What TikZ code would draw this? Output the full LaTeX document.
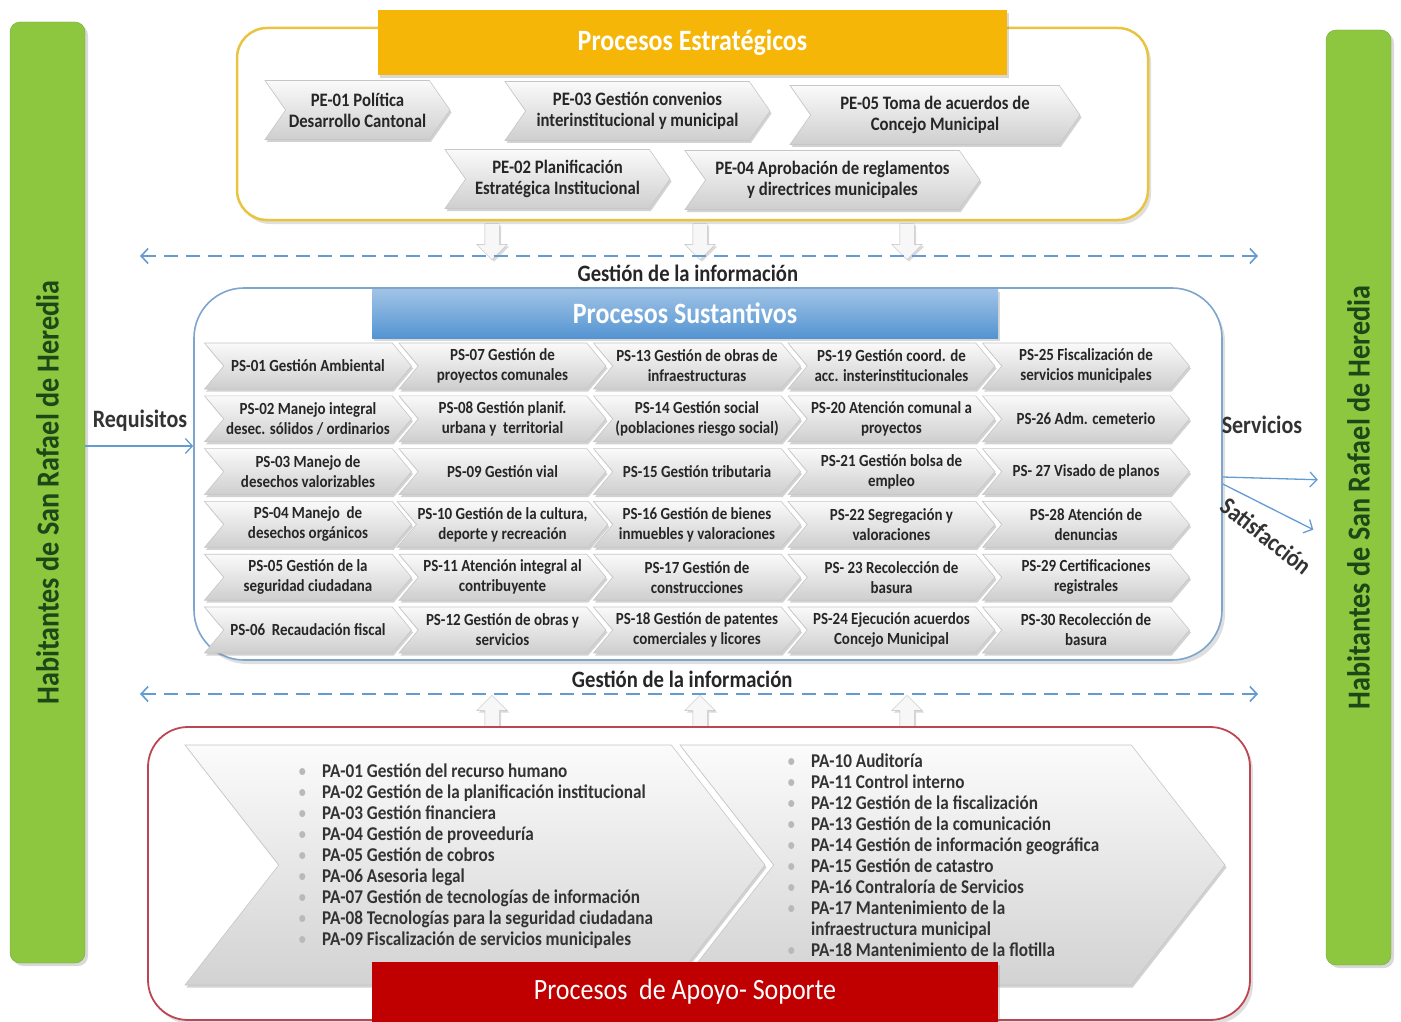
\documentclass[tikz,border=0pt]{standalone}
\usepackage{fontspec}
\setmainfont{Carlito}[FakeStretch=0.88]
\usetikzlibrary{shapes.symbols,shapes.arrows,shadows,arrows.meta,positioning}
\definecolor{habgreen}{RGB}{141,198,63}
\definecolor{habtext}{RGB}{28,72,24}
\definecolor{estgold}{RGB}{246,182,8}
\definecolor{estline}{RGB}{232,196,64}
\definecolor{susblue}{RGB}{84,148,210}
\definecolor{susline}{RGB}{125,165,205}
\definecolor{apored}{RGB}{192,0,0}
\definecolor{apoline}{RGB}{188,70,82}
\definecolor{infoblue}{RGB}{100,155,210}
\tikzset{>={Straight Barb[length=7pt,width=15pt]}}
\tikzset{
  habbar/.style = {rectangle, rounded corners=10pt, fill=habgreen,
    draw=habgreen!85!black, rotate=90, text=habtext,
    font=\bfseries\fontsize{32}{32}\selectfont,
    drop shadow={opacity=0.3, shadow xshift=3pt, shadow yshift=-3pt}},
  frame/.style = {rectangle, fill=white, line width=2pt,
    drop shadow={opacity=0.25, shadow xshift=3pt, shadow yshift=-4pt}},
  estframe/.style = {frame, draw=estline, rounded corners=30pt, line width=2.5pt},
  susframe/.style = {frame, draw=susline, rounded corners=50pt, line width=1.6pt},
  apoframe/.style = {frame, draw=apoline, rounded corners=40pt, line width=1.8pt},
  titlebox/.style = {rectangle, text=white, font=\bfseries\fontsize{29.5}{31}\selectfont,
    drop shadow={opacity=0.3, shadow xshift=2pt, shadow yshift=-3pt}},
  chev/.style = {signal, signal to=east, signal from=west, signal pointer angle=100,
    top color=gray!4, bottom color=gray!38, draw=gray!45, line width=0.6pt,
    align=center, text=black!85, inner xsep=1pt, inner ysep=0pt,
    drop shadow={opacity=0.35, shadow xshift=1.5pt, shadow yshift=-2.5pt}},
  pechev/.style = {chev, signal pointer angle=110, minimum height=59pt,
    font=\bfseries\fontsize{19}{21}\selectfont},
  pschev/.style = {chev, minimum width=207pt, minimum height=46pt,
    font=\bfseries\fontsize{17}{20}\selectfont},
  bigchev/.style = {chev, signal pointer angle=104, minimum height=240pt,
    top color=gray!3, bottom color=gray!35},
  infoarrow/.style = {single arrow, draw=gray!50, fill=gray!6, inner sep=7pt,
    minimum height=36pt, single arrow head extend=8pt,
    drop shadow={opacity=0.3, shadow xshift=2pt, shadow yshift=-2pt}},
  info/.style = {<->, draw=infoblue, line width=1.6pt, dash pattern=on 14pt off 8pt},
  flow/.style = {->, draw=infoblue, line width=1.3pt},
  infolabel/.style = {font=\bfseries\fontsize{23.5}{25}\selectfont, text=black!85},
  flowlabel/.style = {font=\bfseries\fontsize{25}{27}\selectfont, text=black!80},
  palist/.style = {align=left, anchor=west, inner sep=0pt, text=black!80,
    font=\bfseries\fontsize{19.5}{21}\selectfont}
}
\newcommand{\pabul}{\makebox[24pt][l]{\textcolor{gray!55}{\normalfont\textbullet}}}

\begin{document}
\begin{tikzpicture}[x=1pt,y=-1pt]
  \useasboundingbox (0,0) rectangle (1401,1022);
  % habitantes
  \node[habbar, minimum width=941pt, minimum height=75pt] (habL) at (47.5,492.5)
    {Habitantes de San Rafael de Heredia};
  \node[habbar, minimum width=935pt, minimum height=65pt] (habR) at (1358.5,497.5)
    {Habitantes de San Rafael de Heredia};
  % procesos estrategicos
  \node[estframe, minimum width=911pt, minimum height=192pt] (est) at (692.5,124) {};
  \node[titlebox, fill=estgold, minimum width=629pt, minimum height=65pt] (esttitle)
    at (692.5,42.5) {Procesos Estratégicos};
  \node[pechev, minimum width=185pt] (pe1) at (357.5,110) {PE-01 Política\\Desarrollo Cantonal};
  \node[pechev, minimum width=265pt] (pe3) at (637.5,111) {PE-03 Gestión convenios\\interinstitucional y municipal};
  \node[pechev, minimum width=290pt] (pe5) at (935,115) {PE-05 Toma de acuerdos de\\Concejo Municipal};
  \node[pechev, minimum width=225pt] (pe2) at (557.5,179) {PE-02 Planificación\\Estratégica Institucional};
  \node[pechev, minimum width=295pt] (pe4) at (832.5,180) {PE-04 Aprobación de reglamentos\\y directrices municipales};
  % gestion de la informacion
  \foreach \x [count=\i] in {492,700,907}
    \node[infoarrow, rotate=-90] (down\i) at (\x,238) {};
  \coordinate (infoL1) at (140,256);
  \coordinate (infoR1) at (1258,256);
  \draw[info] (infoL1) -- node[infolabel, below=5pt, pos=0.49] (info1) {Gestión de la información} (infoR1);
  % procesos sustantivos
  \node[susframe, minimum width=1028pt, minimum height=372pt] (sus) at (708,474) {};
  \node[titlebox, top color=susblue!55, bottom color=susblue, minimum width=626pt,
    minimum height=49pt] (sustitle) at (685,313.5) {Procesos Sustantivos};
  \foreach \col [count=\c from 0] in {
    {PS-01 Gestión Ambiental, PS-02 Manejo integral\\desec. sólidos / ordinarios,
     PS-03 Manejo de\\desechos valorizables, PS-04 Manejo\ \ de\\desechos orgánicos,
     PS-05 Gestión de la\\seguridad ciudadana, PS-06\ \ Recaudación fiscal},
    {PS-07 Gestión de\\proyectos comunales, PS-08 Gestión planif.\\urbana y\ \ territorial,
     PS-09 Gestión vial, {PS-10 Gestión de la cultura,\\deporte y recreación},
     PS-11 Atención integral al\\contribuyente, PS-12 Gestión de obras y\\servicios},
    {PS-13 Gestión de obras de\\infraestructuras, PS-14 Gestión social\\(poblaciones riesgo social),
     PS-15 Gestión tributaria, PS-16 Gestión de bienes\\inmuebles y valoraciones,
     PS-17 Gestión de\\construcciones, PS-18 Gestión de patentes\\comerciales y licores},
    {PS-19 Gestión coord. de\\acc. insterinstitucionales, PS-20 Atención comunal a\\proyectos,
     PS-21 Gestión bolsa de\\empleo, PS-22 Segregación y\\valoraciones,
     PS- 23 Recolección de\\basura, PS-24 Ejecución acuerdos\\Concejo Municipal},
    {PS-25 Fiscalización de\\servicios municipales, PS-26 Adm. cemeterio,
     PS- 27 Visado de planos, PS-28 Atención de\\denuncias,
     PS-29 Certificaciones\\registrales, PS-30 Recolección de\\basura}}
    \foreach \txt [count=\r from 0] in \col
      \node[pschev] (ps-\c-\r) at (308+194.5*\c, 366+52.8*\r) {\txt};
  % requisitos y servicios
  \draw[flow] (habL.south |- 0,446) -- (sus.west |- 0,446);
  \node[flowlabel] (req) at (140,421) {Requisitos};
  \draw[flow, shorten >=8pt] (sus.east |- 0,477) -- (habR.north |- 0,480);
  \draw[flow, shorten >=14pt] (sus.east |- 0,484) -- (habR.north |- 0,536);
  \node[flowlabel] (serv) at (1262,425) {Servicios};
  \node[flowlabel, rotate=-38] (satis) at (1266,536) {Satisfacción};
  % gestion de la informacion
  \coordinate (infoL2) at (140,694);
  \coordinate (infoR2) at (1258,694);
  \draw[info] (infoL2) -- node[infolabel, above=2pt, pos=0.485] (info2) {Gestión de la información} (infoR2);
  \foreach \x [count=\i] in {492,700,907}
    \node[infoarrow, rotate=90] (up\i) at (\x,717) {};
  % procesos de apoyo
  \node[apoframe, minimum width=1102pt, minimum height=293pt] (apo) at (699,873.5) {};
  \node[bigchev, minimum width=580pt] (apoL) at (475,865) {};
  \node[bigchev, minimum width=545pt] (apoR) at (952.5,865) {};
  \node[palist] (listL) at (298,856) {%
    \pabul PA-01 Gestión del recurso humano\\
    \pabul PA-02 Gestión de la planificación institucional\\
    \pabul PA-03 Gestión financiera\\
    \pabul PA-04 Gestión de proveeduría\\
    \pabul PA-05 Gestión de cobros\\
    \pabul PA-06 Asesoria legal\\
    \pabul PA-07 Gestión de tecnologías de información\\
    \pabul PA-08 Tecnologías para la seguridad ciudadana\\
    \pabul PA-09 Fiscalización de servicios municipales};
  \node[palist] (listR) at (787,855) {%
    \pabul PA-10 Auditoría\\
    \pabul PA-11 Control interno\\
    \pabul PA-12 Gestión de la fiscalización\\
    \pabul PA-13 Gestión de la comunicación\\
    \pabul PA-14 Gestión de información geográfica\\
    \pabul PA-15 Gestión de catastro\\
    \pabul PA-16 Contraloría de Servicios\\
    \pabul PA-17 Mantenimiento de la\\
    \makebox[24pt]{}infraestructura municipal\\
    \pabul PA-18 Mantenimiento de la flotilla};
  \node[titlebox, fill=apored, font=\fontsize{29.5}{31}\selectfont, minimum width=626pt,
    minimum height=60pt] (apotitle) at (685,992) {Procesos\ \ de Apoyo- Soporte};
\end{tikzpicture}
\end{document}
